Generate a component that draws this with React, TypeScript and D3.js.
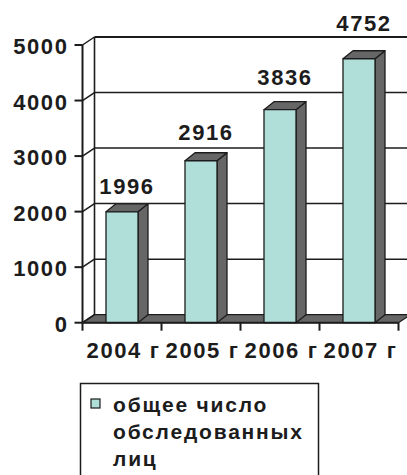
import React from "react";
import * as d3 from "d3";

const categories = ["2004 г", "2005 г", "2006 г", "2007 г"];
const values = [1996, 2916, 3836, 4752];
const yTicks = [0, 1000, 2000, 3000, 4000, 5000];
const seriesName = ["общее число", "обследованных", "лиц"];

const W = 407;
const H = 475;
const FONT = "'Liberation Sans', Arial, sans-serif";
const TEAL = "#b0dfda";
const GRAY = "#666666";
const INK = "#1c1c1c";

export default function App() {
  const y = d3.scaleLinear().domain([0, 5000]).range([322.7, 45]);
  const labelY = d3.scaleLinear().domain([0, 5000]).range([313, 16]);
  const x = d3.scaleBand<string>().domain(categories).range([82.5, 398.5]).padding(0);
  const bw = x.bandwidth();
  const barW = 32;
  const wdx = 12, wdy = -8; // wall depth
  const bdx = 10, bdy = -8; // bar depth
  const x0 = 82.5, x1 = 398.5;
  const y0 = y(0);
  const ls = 1.6;
  const fs = 22;

  return (
    <svg width={W} height={H} style={{ position: "absolute", left: 0, top: 0, background: "#fff" }}>
      {/* floor */}
      <path
        d={`M${x0},${y0} L${x1},${y0} L${x1 + wdx},${y0 + wdy} L${x0 + wdx},${y0 + wdy} Z`}
        fill={GRAY}
        stroke={INK}
        strokeWidth={1.2}
      />
      {/* back wall gridlines and side wall diagonals */}
      {yTicks.map((t) => (
        <g key={t}>
          {t > 0 && (
            <line x1={x0 + wdx} x2={x1 + wdx} y1={y(t) + wdy} y2={y(t) + wdy} stroke={INK} strokeWidth={t === 5000 ? 2 : 1.5} />
          )}
          <line x1={x0} x2={x0 + wdx} y1={y(t)} y2={y(t) + wdy} stroke={INK} strokeWidth={1.5} />
        </g>
      ))}
      {/* back wall verticals */}
      <line x1={x0 + wdx} x2={x0 + wdx} y1={y(0) + wdy} y2={y(5000) + wdy} stroke={INK} strokeWidth={1.6} />
      <line x1={x1 + wdx} x2={x1 + wdx} y1={y(0) + wdy} y2={y(5000) + wdy} stroke={INK} strokeWidth={1.6} />
      {/* bars */}
      {categories.map((c, i) => {
        const bx = (x(c) as number) + (bw - barW) / 2;
        const top = y(values[i]);
        return (
          <g key={c} stroke={INK} strokeWidth={1.3} strokeLinejoin="round">
            <path
              d={`M${bx + barW},${top} L${bx + barW + bdx},${top + bdy} L${bx + barW + bdx},${y0 + bdy} L${bx + barW},${y0} Z`}
              fill={GRAY}
            />
            <path
              d={`M${bx},${top} L${bx + bdx},${top + bdy} L${bx + barW + bdx},${top + bdy} L${bx + barW},${top} Z`}
              fill={GRAY}
            />
            <rect x={bx} y={top} width={barW} height={y0 - top} fill={TEAL} />
          </g>
        );
      })}
      {/* front axes */}
      <line x1={x0} x2={x0} y1={y(0)} y2={y(5000)} stroke={INK} strokeWidth={2} />
      <line x1={x0} x2={x1} y1={y0} y2={y0} stroke={INK} strokeWidth={2} />
      {yTicks.map((t) => (
        <line key={"yt" + t} x1={x0 - 8} x2={x0} y1={y(t)} y2={y(t)} stroke={INK} strokeWidth={2} />
      ))}
      {d3.range(categories.length + 1).map((i) => (
        <line key={"xt" + i} x1={x0 + i * bw} x2={x0 + i * bw} y1={y0} y2={y0 + 8} stroke={INK} strokeWidth={2} />
      ))}
      {/* y tick labels */}
      {yTicks.map((t) => (
        <text
          key={"yl" + t}
          x={68.5}
          y={y(t) + 9}
          textAnchor="end"
          fontFamily={FONT}
          fontWeight="bold"
          fontSize={fs}
          letterSpacing={ls}
          fill={INK}
        >
          {t}
        </text>
      ))}
      {/* x labels */}
      {categories.map((c) => (
        <text
          key={"xl" + c}
          x={(x(c) as number) + bw / 2 + 1.5}
          y={358}
          textAnchor="middle"
          fontFamily={FONT}
          fontWeight="bold"
          fontSize={fs}
          letterSpacing={ls}
          fill={INK}
        >
          {c}
        </text>
      ))}
      {/* value labels */}
      {categories.map((c, i) => {
        const bx = (x(c) as number) + (bw - barW) / 2;
        return (
          <text
            key={"vl" + c}
            x={bx + barW / 2 + bdx / 2}
            y={labelY(values[i])}
            textAnchor="middle"
            fontFamily={FONT}
            fontWeight="bold"
            fontSize={fs}
            letterSpacing={ls}
            fill={INK}
          >
            {values[i]}
          </text>
        );
      })}
      {/* legend */}
      <rect x={80.5} y={383.5} width={238} height={110} fill="none" stroke={INK} strokeWidth={1.5} />
      <rect x={91} y={399} width={9} height={9} fill={TEAL} stroke={INK} strokeWidth={1.2} />
      {seriesName.map((s, i) => (
        <text
          key={"lg" + i}
          x={113}
          y={412 + i * 27}
          fontFamily={FONT}
          fontWeight="bold"
          fontSize={21}
          letterSpacing={1.8}
          fill={INK}
        >
          {s}
        </text>
      ))}
    </svg>
  );
}
